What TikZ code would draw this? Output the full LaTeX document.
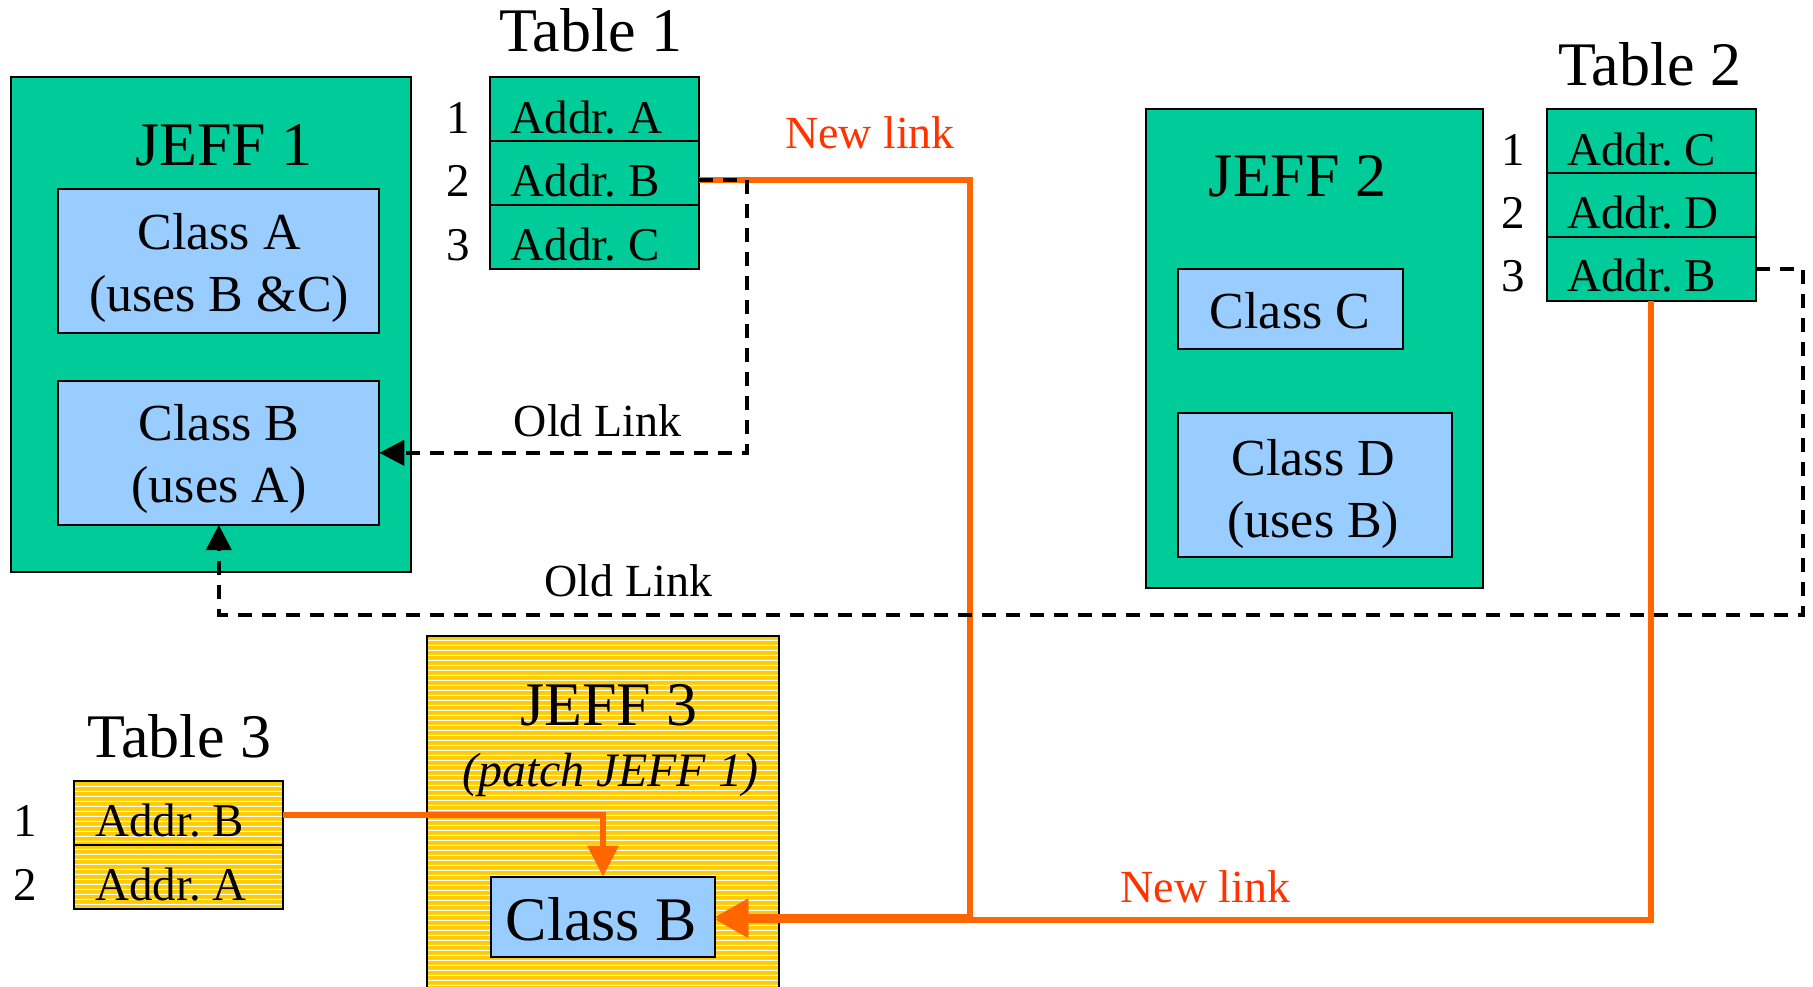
\documentclass[tikz,border=0pt]{standalone}
\usepackage{fontspec}
\setmainfont{Liberation Serif}
\usetikzlibrary{arrows.meta,patterns,calc}
\frenchspacing
\definecolor{jgreen}{HTML}{00CC99}
\definecolor{jblue}{HTML}{99CCFF}
\definecolor{jyellow}{HTML}{FFCC00}
\definecolor{lorange}{HTML}{FF6600}
\definecolor{tred}{HTML}{FF3300}
\pgfdeclarepatternformonly{hstripes}{\pgfpointorigin}{\pgfqpoint{1000pt}{4.5pt}}{\pgfqpoint{1000pt}{4.5pt}}{\pgfpathrectangle{\pgfpointorigin}{\pgfqpoint{1000pt}{1.3pt}}\pgfusepath{fill}}
\newcommand{\twoline}[2]{\begin{tabular}[t]{@{}c@{}}#1\\#2\end{tabular}}
\tikzset{
  box/.style={draw=black, line width=2pt, inner sep=0pt, outer sep=0pt},
  gbox/.style={box, fill=jgreen},
  bbox/.style={box, fill=jblue},
  ybox/.style={box, preaction={fill=jyellow}, pattern=hstripes, pattern color=white},
  rowbox/.style={minimum height=64pt},
  ttl/.style={anchor=base, inner sep=0pt, font=\fontsize{62}{74}\selectfont},
  addr/.style={anchor=base west, inner sep=0pt, font=\fontsize{47}{56}\selectfont},
  num/.style={anchor=base, inner sep=0pt, font=\fontsize{47}{56}\selectfont},
  cls/.style={anchor=base, inner sep=0pt, font=\fontsize{52}{62.5}\selectfont},
  lnk/.style={anchor=base, inner sep=0pt, font=\fontsize{46}{55}\selectfont},
  newlink/.style={draw=lorange, line width=6pt},
  oldlink/.style={draw=black, line width=4pt, dash pattern=on 14pt off 10pt},
}
\begin{document}
\begin{tikzpicture}[x=1pt, y=-1pt]
\useasboundingbox (0,0) rectangle (1813,986);

% JEFF 1
\node[gbox, minimum width=400.4pt, minimum height=495.7pt] (j1) at (210.8,324.55) {};
\node[bbox, minimum width=321pt, minimum height=144.3pt] (c1a) at (218.8,261.15) {};
\node[bbox, minimum width=321pt, minimum height=144.3pt] (c1b) at (218.8,452.85) {};
\node[ttl] (j1t) at (223.8,165) {JEFF 1};
\node[cls] (c1at) at (219,249) {\twoline{Class A}{(uses B \&C)}};
\node[cls] (c1bt) at (219,440) {\twoline{Class B}{(uses A)}};

% Table 1
\node[ttl] (tt1) at (591,51.7) {Table 1};
\node[gbox, rowbox, minimum width=208.4pt] (t1r1) at (594.6,108.7) {};
\node[gbox, rowbox, minimum width=208.4pt] (t1r2) at (594.6,172.7) {};
\node[gbox, rowbox, minimum width=208.4pt] (t1r3) at (594.6,236.7) {};
\node[addr] (t1a1) at (510.6,133.3) {Addr. A};
\node[addr] (t1a2) at (510.6,196.7) {Addr. B};
\node[addr] (t1a3) at (510.6,260.5) {Addr. C};
\node[num] (t1n1) at (458,133.3) {1};
\node[num] (t1n2) at (458,196.7) {2};
\node[num] (t1n3) at (458,260.5) {3};

% JEFF 2
\node[gbox, minimum width=336.9pt, minimum height=479.3pt] (j2) at (1314.85,348.65) {};
\node[bbox, minimum width=225pt, minimum height=80.3pt] (c2c) at (1290.8,309.15) {};
\node[bbox, minimum width=273.4pt, minimum height=144pt] (c2d) at (1315,484.7) {};
\node[ttl] (j2t) at (1297.7,196.7) {JEFF 2};
\node[cls] (c2ct) at (1290,328.3) {Class C};
\node[cls] (c2dt) at (1313.3,475) {\twoline{Class D}{(uses B)}};

% Table 2
\node[ttl] (tt2) at (1649.7,85) {Table 2};
\node[gbox, rowbox, minimum width=209pt] (t2r1) at (1651.4,141) {};
\node[gbox, rowbox, minimum width=209pt] (t2r2) at (1651.4,205) {};
\node[gbox, rowbox, minimum width=209pt] (t2r3) at (1651.4,269) {};
\node[addr] (t2a1) at (1567,165) {Addr. C};
\node[addr] (t2a2) at (1567,228.3) {Addr. D};
\node[addr] (t2a3) at (1567,291.7) {Addr. B};
\node[num] (t2n1) at (1513.4,165) {1};
\node[num] (t2n2) at (1513.4,228.3) {2};
\node[num] (t2n3) at (1513.4,291.7) {3};

% Table 3
\node[ttl] (tt3) at (179.5,757) {Table 3};
\node[ybox, rowbox, minimum width=209.3pt] (t3r1) at (178.7,812.8) {};
\node[ybox, rowbox, minimum width=209.3pt] (t3r2) at (178.7,876.8) {};
\node[addr] (t3a1) at (95,836) {Addr. B};
\node[addr] (t3a2) at (95,900) {Addr. A};
\node[num] (t3n1) at (25,836) {1};
\node[num] (t3n2) at (25,900) {2};

% JEFF 3
\node[ybox, minimum width=352.6pt, minimum height=364pt] (j3) at (603,818) {};
\node[bbox, minimum width=224.6pt, minimum height=80pt] (c3b) at (603,916.7) {};
\node[ttl] (j3t) at (609,725) {JEFF 3};
\node[anchor=base, inner sep=0pt, font=\fontsize{48}{58}\selectfont\itshape] (j3p) at (610,786.7) {(patch JEFF 1)};
\node[anchor=base, inner sep=0pt, font=\fontsize{62}{74}\selectfont] (c3bt) at (601.3,940) {Class B};

% link labels
\node[lnk, text=tred] (nl1) at (870,148.3) {New link};
\node[lnk, text=tred] (nl2) at (1205.5,902) {New link};
\node[lnk] (ol1) at (597.5,436) {Old Link};
\node[lnk] (ol2) at (628.3,596.7) {Old Link};

% corner coordinates
\coordinate (n1) at (970,916.7);
\coordinate (o1) at (746.7,452.85);
\coordinate (o2) at (1803,614.5);

% new links
\draw[newlink, -{Triangle[length=33pt,width=35pt]}] ($(t1r2.east)+(0,7)$) -| (n1) -- (c3b.east);
\draw[newlink, -{Triangle[length=33pt,width=35pt]}] (t2r3.south) |- ($(c3b.east)+(0,3)$);
\draw[newlink, -{Triangle[length=31pt,width=30pt]}] ($(t3r1.east)+(0,2.5)$) -| (c3b.north);

% old links
\draw[oldlink, -{Triangle[length=25pt,width=25pt]}] ($(t1r2.east)+(0,7)$) -| (o1) -- (c1b.east);
\draw[oldlink, -{Triangle[length=25pt,width=25pt]}] (t2r3.east) -| (o2) -| (c1b.south);
\end{tikzpicture}
\end{document}
